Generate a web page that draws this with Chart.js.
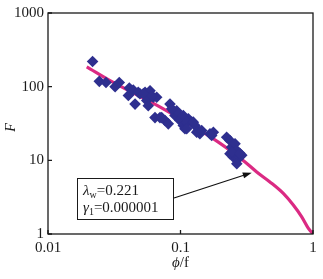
<!DOCTYPE html>
<html><head><meta charset="utf-8">
<script src="https://cdn.jsdelivr.net/npm/chart.js@4/dist/chart.umd.min.js"></script>
<style>html,body{margin:0;padding:0;background:#fff}#wrap{width:323px;height:279px}</style>
</head><body><div id="wrap"><canvas id="c" width="323" height="279"></canvas></div>
<script>
const xTickValues = [0.01, 0.1, 1];
const xTickLabels = ['0.01', '0.1', '1'];
const yTickValues = [1, 10, 100, 1000];
const yTickLabels = ['1', '10', '100', '1000'];

// measured points (phi/f, F)
const phiF = [0.0217,0.0244,0.0274,0.0321,0.0345,0.0411,0.044,0.0404,0.0454,0.0494,0.054,0.0589,0.0556,0.0571,0.0623,0.0661,0.0642,0.070,0.0764,0.0833,0.0883,0.0908,0.0809,0.0962,0.099,0.105,0.108,0.1146,0.1216,0.1286,0.1362,0.140,0.167,0.177,0.223,0.236,0.243,0.258,0.266,0.250,0.273,0.290,0.266,0.236,
  0.0936,0.105,0.1114,0.125,0.1114,0.1325,0.1445,0.172,0.0859,0.0721,0.0606,0.048,0.0524,0.245,0.28];
const Fvals = [220,118,114,100,114,96,90,76,58,80,84,88,65,55,72,72,38,38,34.7,58,47,40.6,31.3,42.8,34.7,29.7,26.8,36.6,33,29.7,25.4,23,23,24.1,20.6,18.6,15.1,16.8,13.6,11.1,10.5,11.7,9.0,12.3,
  47,40.6,33,33,26.8,24.1,25.4,21.8,50,38,75.5,84,80,13,12.5];

// fitted curve
const curveX = [0.0196,0.0311,0.0742,0.193,0.307,0.376,0.473,0.597,0.71,0.822,0.923,1.0];
const curveY = [186,114,50,17.7,9.5,6.95,5.09,3.55,2.47,1.71,1.19,1.0];

const annLines = ['λ', 'γ'];
const annValues = ['0.221', '0.000001'];
const arrowTip = {x: 0.345, y: 6.8};

const FONT = '"Liberation Serif", "DejaVu Serif", serif';

const overlay = {
  id: 'overlay',
  afterDraw(chart) {
    const ctx = chart.ctx, a = chart.chartArea;
    const xs = chart.scales.x, ys = chart.scales.y;
    ctx.save();
    // frame
    ctx.strokeStyle = '#1a1a1a'; ctx.lineWidth = 1.3;
    ctx.strokeRect(a.left, a.top, a.right - a.left, a.bottom - a.top);
    // inward ticks
    ctx.beginPath();
    xTickValues.forEach(v => { const px = xs.getPixelForValue(v); ctx.moveTo(px, a.bottom); ctx.lineTo(px, a.bottom - 4); });
    yTickValues.forEach(v => { const py = ys.getPixelForValue(v); ctx.moveTo(a.left, py); ctx.lineTo(a.left + 4, py); });
    ctx.stroke();
    // axis titles
    ctx.fillStyle = '#1a1a1a';
    ctx.textBaseline = 'middle';
    ctx.font = 'italic 15px ' + FONT;
    const w1 = ctx.measureText('ϕ').width;
    ctx.font = '15px ' + FONT;
    const w2 = ctx.measureText('/f').width;
    let sx = xs.getPixelForValue(0.1) - (w1 + w2) / 2;
    ctx.textAlign = 'left';
    ctx.font = 'italic 15px ' + FONT; ctx.fillText('ϕ', sx, 263);
    ctx.font = '15px ' + FONT; ctx.fillText('/f', sx + w1, 263);
    ctx.save();
    ctx.translate(11, (a.top + a.bottom) / 2 + 4);
    ctx.rotate(-Math.PI / 2);
    ctx.textAlign = 'center';
    ctx.font = 'italic 14px ' + FONT;
    ctx.fillText('F', 0, 0);
    ctx.restore();
    // annotation box
    const bx = a.left + 29, by = a.top + 165, bw = 96, bh = 41;
    ctx.fillStyle = '#fff';
    ctx.fillRect(bx, by, bw, bh);
    ctx.lineWidth = 1; ctx.strokeStyle = '#1a1a1a';
    ctx.strokeRect(bx + 0.5, by + 0.5, bw, bh);
    ctx.fillStyle = '#1a1a1a';
    ctx.textAlign = 'left';
    const subs = ['w', '1'];
    [0, 1].forEach(i => {
      const ty = by + 13 + i * 17;
      let tx = bx + 6;
      ctx.font = 'italic 15px ' + FONT;
      ctx.fillText(annLines[i], tx, ty);
      tx += ctx.measureText(annLines[i]).width;
      ctx.font = '10px ' + FONT;
      ctx.fillText(subs[i], tx, ty + 4);
      tx += ctx.measureText(subs[i]).width;
      ctx.font = '15px ' + FONT;
      ctx.fillText('=' + annValues[i], tx, ty);
    });
    // arrow
    const tx = xs.getPixelForValue(arrowTip.x), ty = ys.getPixelForValue(arrowTip.y);
    const sx0 = bx + bw + 1, sy0 = by + 20;
    ctx.strokeStyle = '#111'; ctx.lineWidth = 1.2;
    const ang = Math.atan2(ty - sy0, tx - sx0);
    ctx.beginPath(); ctx.moveTo(sx0, sy0); ctx.lineTo(tx - 6 * Math.cos(ang), ty - 6 * Math.sin(ang)); ctx.stroke();
    ctx.fillStyle = '#111';
    ctx.beginPath();
    ctx.moveTo(tx, ty);
    ctx.lineTo(tx - 9 * Math.cos(ang) + 3 * Math.sin(ang), ty - 9 * Math.sin(ang) - 3 * Math.cos(ang));
    ctx.lineTo(tx - 9 * Math.cos(ang) - 3 * Math.sin(ang), ty - 9 * Math.sin(ang) + 3 * Math.cos(ang));
    ctx.closePath(); ctx.fill();
    ctx.restore();
  }
};

new Chart(document.getElementById('c'), {
  type: 'scatter',
  data: {
    datasets: [
      {
        label: 'data',
        data: phiF.map((x, i) => ({x, y: Fvals[i]})),
        pointStyle: 'rectRot', pointRadius: 5.8, pointHoverRadius: 5.8,
        backgroundColor: '#2e2f8f', borderColor: '#2e2f8f', borderWidth: 0,
        order: 1
      },
      {
        label: 'fit',
        data: curveX.map((x, i) => ({x, y: curveY[i]})),
        showLine: true, pointRadius: 0, borderWidth: 3.2,
        borderColor: '#db2a83', backgroundColor: '#db2a83',
        cubicInterpolationMode: 'monotone',
        order: 2
      }
    ]
  },
  options: {
    responsive: false, animation: false, devicePixelRatio: 1,
    layout: {padding: {top: 12, right: 10, left: 0, bottom: 0}},
    plugins: {legend: {display: false}, tooltip: {enabled: false}},
    scales: {
      x: {
        type: 'logarithmic', min: 0.01, max: 1,
        afterBuildTicks: s => { s.ticks = xTickValues.map(v => ({value: v})); },
        afterFit: s => { s.height = 45; },
        grid: {display: false, drawTicks: false},
        border: {display: false},
        ticks: {
          autoSkip: false, maxRotation: 0, padding: 5, color: '#1a1a1a',
          font: {family: FONT, size: 15},
          callback: (v) => { const i = xTickValues.indexOf(v); return i >= 0 ? xTickLabels[i] : ''; }
        }
      },
      y: {
        type: 'logarithmic', min: 1, max: 1000,
        afterBuildTicks: s => { s.ticks = yTickValues.map(v => ({value: v})); },
        afterFit: s => { s.width = 48; },
        grid: {display: false, drawTicks: false},
        border: {display: false},
        ticks: {
          autoSkip: false, padding: 4, color: '#1a1a1a',
          font: {family: FONT, size: 15},
          callback: (v) => { const i = yTickValues.indexOf(v); return i >= 0 ? yTickLabels[i] : ''; }
        }
      }
    }
  },
  plugins: [overlay]
});
</script>
</body></html>
